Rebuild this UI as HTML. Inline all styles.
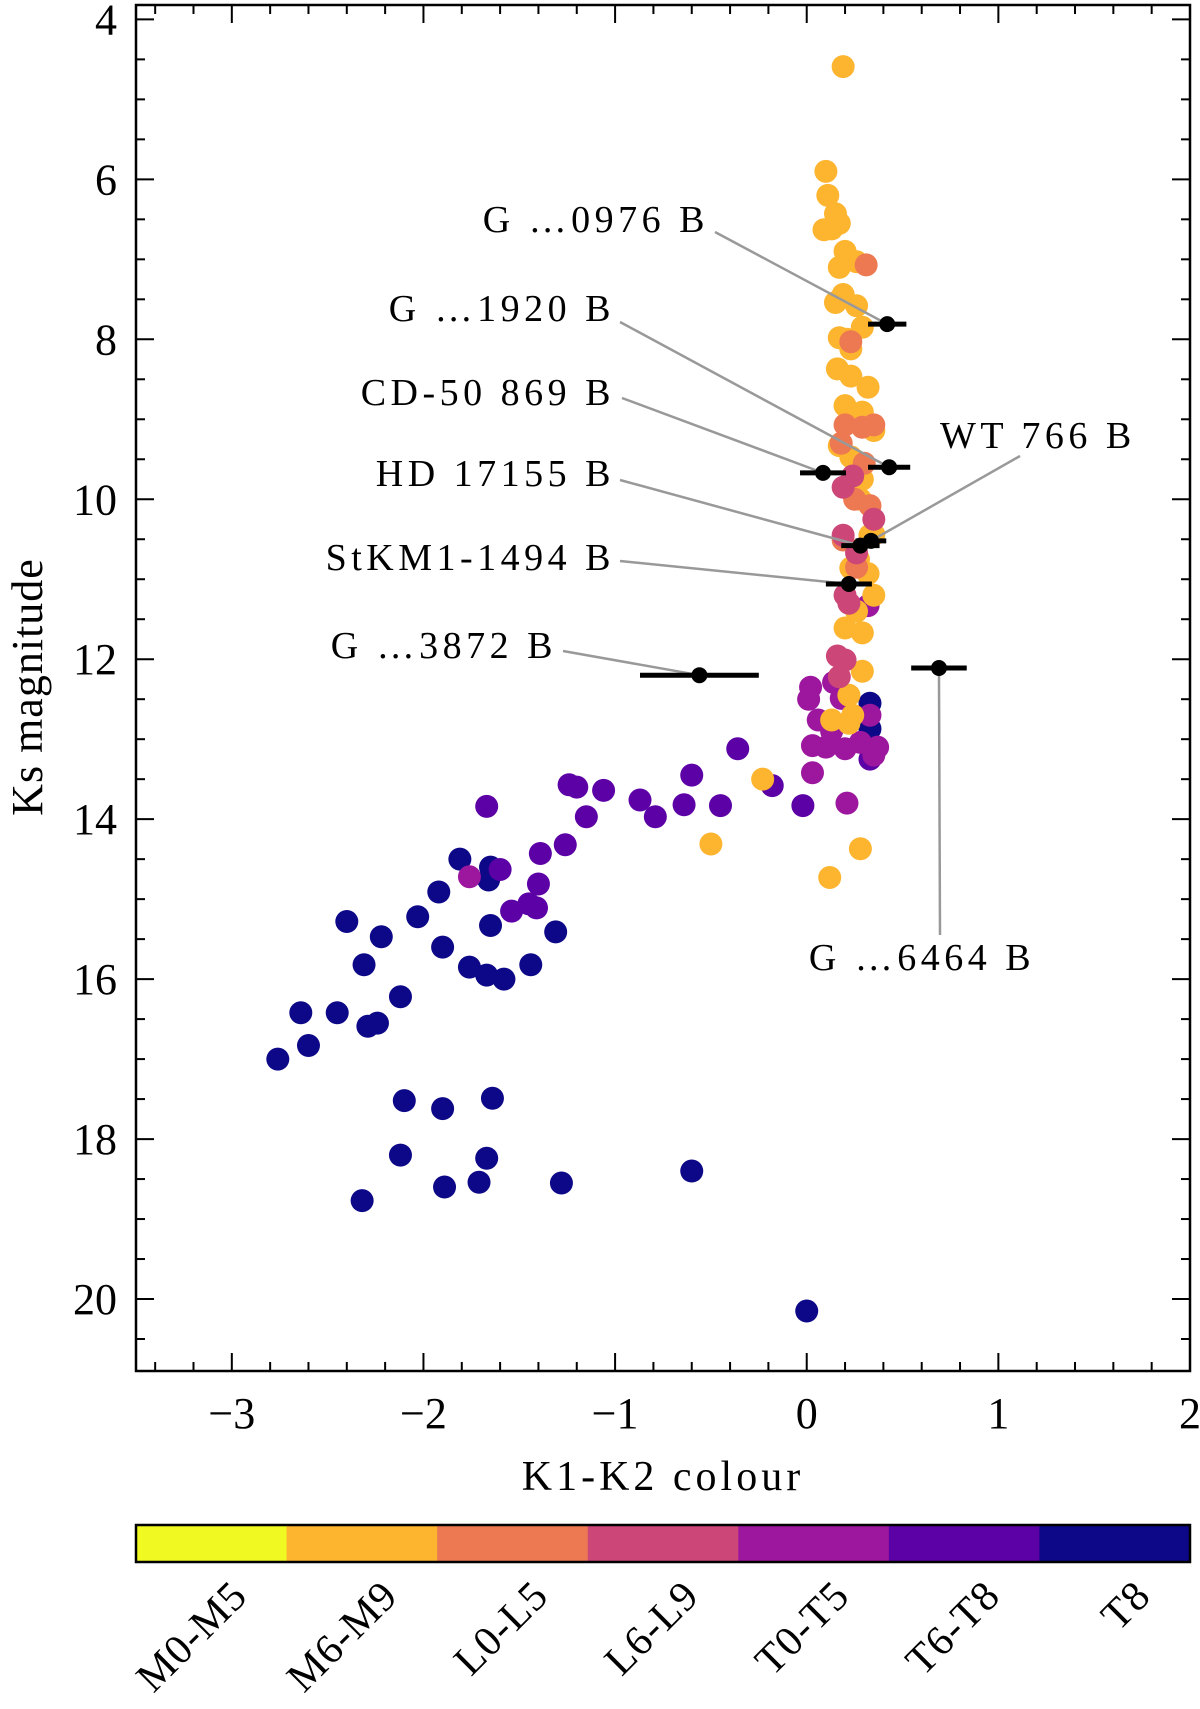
<!DOCTYPE html>
<html><head><meta charset="utf-8"><style>
html,body{margin:0;padding:0;background:#fff;}
svg{display:block;font-family:"Liberation Serif",serif;}
</style></head><body>
<svg id="chart" width="1200" height="1709" viewBox="0 0 1200 1709" xmlns="http://www.w3.org/2000/svg">
<g id="marks"></g>
<g id="annot"></g>
<g id="axes"></g>
<g id="cbar"></g>
</svg>
<script>
const catNames = ["M0-M5","M6-M9","L0-L5","L6-L9","T0-T5","T6-T8","T8"];
const catColors = ["#f0f921","#fdb42f","#ed7953","#cc4778","#9c179e","#5c01a6","#0d0887"];
// M6-M9
const m6x = [0.19,0.10,0.11,0.09,0.15,0.13,0.17,0.20,0.17,0.26,0.19,0.15,0.26,0.17,0.29,0.23,0.16,0.23,0.32,0.20,0.29,0.35,0.17,0.23,0.29,0.28,0.35,0.23,0.32,0.35,0.26,0.29,0.20,0.29,0.22,0.24,0.13,0.22,-0.23,-0.50,0.12,0.28,0.27,0.33,0.25,0.21];
const m6y = [4.59,5.90,6.20,6.63,6.43,6.62,6.55,6.90,7.10,7.03,7.44,7.54,7.58,7.98,7.85,8.12,8.37,8.46,8.60,8.83,8.91,9.14,9.33,9.47,9.75,10.00,10.44,10.86,10.93,11.20,11.40,11.67,11.61,12.15,12.45,12.70,12.76,12.80,13.50,14.31,14.73,14.37,10.75,10.45,9.00,8.00];
// L0-L5
const l0x = [0.31,0.20,0.29,0.35,0.19,0.26,0.23,0.18,0.30,0.25,0.33];
const l0y = [7.07,9.07,9.10,9.07,10.51,10.85,8.03,9.30,9.55,10.00,10.08];
// L6-L9
const l6x = [0.16,0.20,0.17,0.20,0.19,0.24,0.26,0.35,0.22,0.19];
const l6y = [11.96,12.01,12.22,11.20,9.85,9.71,10.67,10.25,11.30,10.45];
// T0-T5
const t0x = [0.02,0.01,0.03,0.03,0.06,0.10,0.13,0.18,0.20,0.21,0.28,0.35,0.33,0.37,0.14,0.32,-1.76];
const t0y = [12.35,12.50,13.42,13.08,12.76,13.10,12.90,12.49,13.12,13.80,13.04,13.20,12.70,13.10,12.29,11.33,14.72];
// T6-T8
const t6x = [-1.67,-1.60,-1.54,-1.45,-1.41,-1.40,-1.39,-1.26,-1.24,-1.20,-1.15,-1.06,-0.87,-0.79,-0.64,-0.60,-0.45,-0.36,-0.18,-0.02,0.33];
const t6y = [13.84,14.63,15.15,15.06,15.11,14.81,14.43,14.32,13.57,13.60,13.97,13.64,13.76,13.97,13.82,13.45,13.83,13.12,13.58,13.83,13.25];
// T8
const t8x = [-2.76,-2.64,-2.60,-2.45,-2.40,-2.31,-2.29,-2.24,-2.22,-2.12,-2.10,-2.12,-2.32,-2.03,-1.92,-1.90,-1.89,-1.90,-1.81,-1.76,-1.71,-1.67,-1.66,-1.65,-1.65,-1.67,-1.64,-1.58,-1.44,-1.31,-1.28,-0.60,0.00,0.33,0.33];
const t8y = [17.00,16.42,16.83,16.42,15.28,15.82,16.59,16.55,15.47,16.22,17.52,18.20,18.77,15.22,14.91,17.62,18.60,15.60,14.50,15.85,18.54,15.95,14.76,14.60,15.33,18.24,17.49,16.00,15.82,15.41,18.55,18.40,20.15,12.55,12.87];
// annotated companions
const objNames = ["G …0976 B","G …1920 B","CD-50 869 B","HD 17155 B","WT 766 B","StKM1-1494 B","G …3872 B","G …6464 B"];
const objX = [0.42,0.43,0.085,0.28,0.335,0.22,-0.56,0.69];
const objY = [7.81,9.60,9.67,10.58,10.52,11.06,12.20,12.11];
const objXerr = [0.10,0.11,0.12,0.10,0.08,0.12,0.31,0.145];
const xTicks = [-3,-2,-1,0,1,2];
const yTicks = [4,6,8,10,12,14,16,18,20];

const NS="http://www.w3.org/2000/svg";
const L=136,R=1190,T=5,B=1371, XMIN=-3.5,XMAX=2.0,YMIN=3.82,YMAX=20.9;
function sx(v){return L+(v-XMIN)/(XMAX-XMIN)*(R-L);}
function sy(v){return T+(v-YMIN)/(YMAX-YMIN)*(B-T);}
function mk(tag,at,parent){const e=document.createElementNS(NS,tag);for(const k in at)e.setAttribute(k,at[k]);parent.appendChild(e);return e;}
const marks=document.getElementById('marks'),annot=document.getElementById('annot'),axes=document.getElementById('axes'),cbar=document.getElementById('cbar');

const series=[[t8x,t8y,6],[t6x,t6y,5],[t0x,t0y,4],[m6x,m6y,1],[l0x,l0y,2],[l6x,l6y,3]];
series.forEach(s=>{
  s[0].forEach((x,i)=>{
    const c=mk('circle',{cx:sx(x),cy:sy(s[1][i]),r:11.5,fill:catColors[s[2]]},marks);
    
    
  });
});

const lab=[[709,232,'end',[715,232]],[615,321,'end',[620,322]],[615,405,'end',[622,398]],[615,486,'end',[620,480]],[940,448,'start',[1020,456]],[615,570,'end',[620,561]],[557,658,'end',[563,651]],[922,970,'middle',[940,935]]];
objNames.forEach((n,i)=>{
  const px=sx(objX[i]),py=sy(objY[i]);
  const ln=mk('line',{x1:lab[i][3][0],y1:lab[i][3][1],x2:px,y2:py,stroke:'#999',"stroke-width":2.5},annot);
  
  
  const eb=mk('line',{x1:sx(objX[i]-objXerr[i]),y1:py,x2:sx(objX[i]+objXerr[i]),y2:py,stroke:'#000',"stroke-width":5},annot);
  
  
  const c=mk('circle',{cx:px,cy:py,r:8,fill:'#000'},annot);
  
  
  const t=mk('text',{x:lab[i][0],y:lab[i][1],"text-anchor":lab[i][2],"font-size":38,"letter-spacing":4.5,fill:'#000'},annot);
  t.textContent=n;
  
  
});

const fr=mk('rect',{x:L,y:T,width:R-L,height:B-T,fill:'none',stroke:'#000',"stroke-width":2.5},axes);


for(let v=-3.4;v<=2.0001;v+=0.2){
  const vv=Math.round(v*10)/10, major=Math.abs(vv-Math.round(vv))<1e-6, len=major?18:9, x=sx(vv);
  mk('line',{x1:x,y1:B,x2:x,y2:B-len,stroke:'#000',"stroke-width":2},axes);
  mk('line',{x1:x,y1:T,x2:x,y2:T+len,stroke:'#000',"stroke-width":2},axes);
}
for(let v=4;v<=20.9;v+=0.5){
  const major=(v%2===0), len=major?18:9, y=sy(v);
  mk('line',{x1:L,y1:y,x2:L+len,y2:y,stroke:'#000',"stroke-width":2},axes);
  mk('line',{x1:R,y1:y,x2:R-len,y2:y,stroke:'#000',"stroke-width":2},axes);
}
xTicks.forEach(v=>{
  const t=mk('text',{x:sx(v),y:1428,"text-anchor":"middle","font-size":44},axes);
  t.textContent=(v<0?'\u2212':'')+Math.abs(v);
  
  
});
yTicks.forEach(v=>{
  const t=mk('text',{x:117,y:sy(v)+15,"text-anchor":"end","font-size":44},axes);
  t.textContent=v;
  
  
});
const xt=mk('text',{x:663,y:1490,"text-anchor":"middle","font-size":42,"letter-spacing":4},axes);
xt.textContent='K1-K2 colour';


const yt=mk('text',{x:0,y:0,"text-anchor":"middle","font-size":44,"letter-spacing":1,transform:'translate(42,687) rotate(-90)'},axes);
yt.textContent='Ks magnitude';



const CT=1525,CB=1562,w=(R-L)/catNames.length;
catNames.forEach((n,i)=>{
  const r=mk('rect',{x:L+i*w,y:CT,width:w+0.5,height:CB-CT,fill:catColors[i]},cbar);
  
  
  const cx=L+(i+0.5)*w+38;
  const t=mk('text',{x:0,y:0,"text-anchor":"end","font-size":42,"letter-spacing":1,transform:'translate('+cx+',1598) rotate(-45)'},cbar);
  t.textContent=n;
  
  
});
const cf=mk('rect',{x:L,y:CT,width:R-L,height:CB-CT,fill:'none',stroke:'#000',"stroke-width":2.5},cbar);


</script>
</body></html>
